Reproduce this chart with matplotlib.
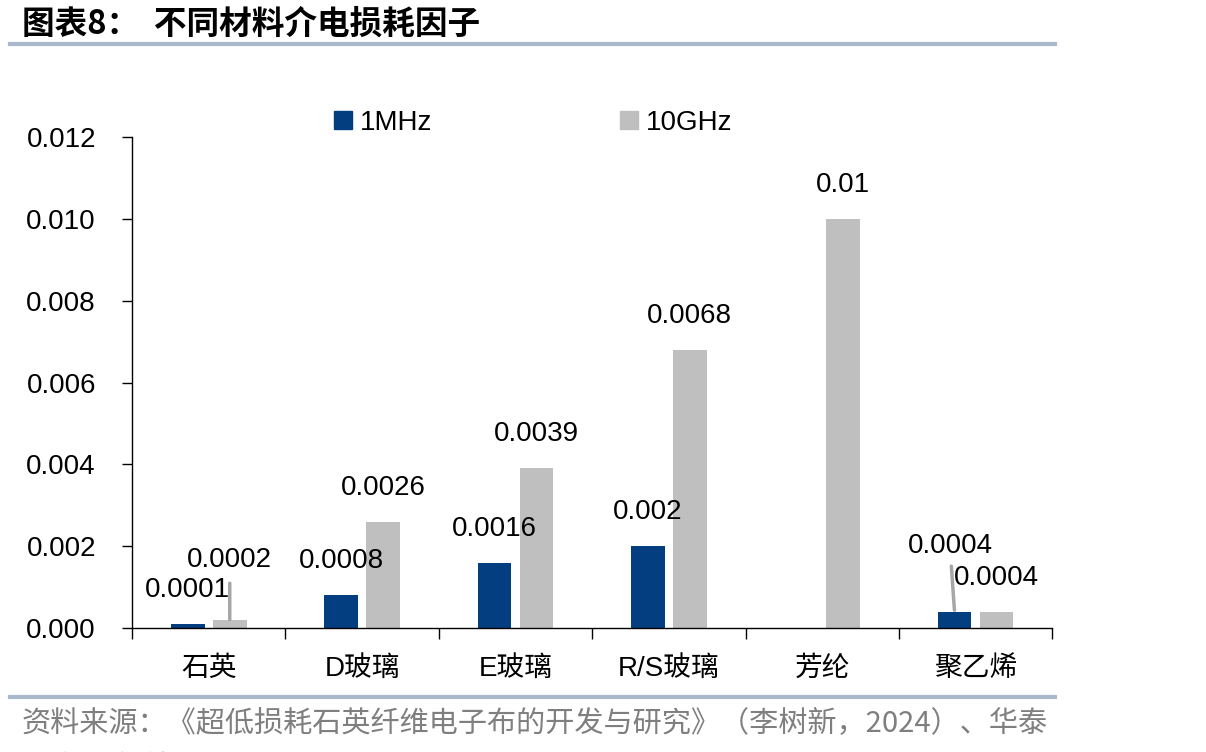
import matplotlib.pyplot as plt
import numpy as np
from matplotlib.lines import Line2D

plt.rcParams['font.family'] = ['Liberation Sans', 'Noto Sans CJK SC', 'DejaVu Sans']

categories = ["石英", "D玻璃", "E玻璃", "R/S玻璃", "芳纶", "聚乙烯"]
mhz_values = [0.0001, 0.0008, 0.0016, 0.002, 0, 0.0004]
ghz_values = [0.0002, 0.0026, 0.0039, 0.0068, 0.01, 0.0004]
mhz_labels = ["0.0001", "0.0008", "0.0016", "0.002", "", "0.0004"]
ghz_labels = ["0.0002", "0.0026", "0.0039", "0.0068", "0.01", "0.0004"]
yticks = [0.0, 0.002, 0.004, 0.006, 0.008, 0.010, 0.012]

navy = "#023E80"
grey = "#BFBFBF"

fig = plt.figure(figsize=(12.06, 7.52), dpi=100)
ax = fig.add_axes([0.1095, 0.1649, 0.763, 0.6529])

x = np.arange(len(categories))
w = 0.22
off = 0.137
ax.bar(x - off, mhz_values, w, color=navy, label="1MHz")
ax.bar(x + off, ghz_values, w, color=grey, label="10GHz")

ax.set_xlim(-0.5, len(categories) - 0.5)
ax.set_ylim(0, 0.012)
ax.set_yticks(yticks)
ax.set_yticklabels([f"{v:.3f}" for v in yticks], fontsize=20)
ax.set_xticks(x)
ax.set_xticklabels(categories, fontsize=20)
ax.set_xticks(np.arange(len(categories) + 1) - 0.5, minor=True)
ax.tick_params(axis='x', which='major', length=0, pad=20)
ax.tick_params(axis='x', which='minor', length=8, direction='out', width=1)
ax.tick_params(axis='y', length=7, direction='out', width=1, pad=19)
for s in ['top', 'right']:
    ax.spines[s].set_visible(False)
for s in ['left', 'bottom']:
    ax.spines[s].set_linewidth(1)

# value labels (points offset above bar tops)
ypad = 0.00083
for i in range(len(categories)):
    if mhz_labels[i]:
        if categories[i] == "聚乙烯":
            ax.annotate(mhz_labels[i], xy=(i - off, mhz_values[i]),
                        xytext=(i - off - 0.03, 0.0020), ha='center', va='center',
                        fontsize=20, arrowprops=dict(arrowstyle='-', color='#A6A6A6', lw=2.5,
                                                     shrinkA=3, shrinkB=1))
        else:
            ax.text(i - off, mhz_values[i] + ypad, mhz_labels[i], ha='center', va='center', fontsize=20)
    if categories[i] == "石英":
        ax.annotate(ghz_labels[i], xy=(i + off, ghz_values[i]),
                    xytext=(i + off, 0.00165), ha='center', va='center',
                    fontsize=20, arrowprops=dict(arrowstyle='-', color='#A6A6A6', lw=2.5,
                                                 shrinkA=5, shrinkB=0))
    else:
        ax.text(i + off, ghz_values[i] + ypad, ghz_labels[i], ha='center', va='center', fontsize=20)

handles = [Line2D([], [], marker='s', ls='', color=navy, markersize=13),
           Line2D([], [], marker='s', ls='', color=grey, markersize=13)]
fig.legend(handles, ["1MHz", "10GHz"], ncol=2, frameon=False, fontsize=20,
           loc='center', bbox_to_anchor=(0.44, 0.837), columnspacing=6.6,
           handletextpad=0.1, handlelength=1.0)

# title and decorative rules
fig.text(0.018, 0.968, "图表8：  不同材料介电损耗因子", fontsize=23.5, fontweight='bold',
         family=['Noto Sans CJK SC'], va='center', ha='left')
fig.add_artist(Line2D([0.008, 0.875], [0.941, 0.941], color='#A9B9CB', lw=3))
fig.add_artist(Line2D([0.008, 0.875], [0.073, 0.073], color='#A9B9CB', lw=3))
fig.text(0.018, 0.037, "资料来源：《超低损耗石英纤维电子布的开发与研究》（李树新，2024）、华泰",
         fontsize=21, color='#7F7F7F', va='center', ha='left',
         family=['Noto Sans CJK SC', 'DejaVu Sans'])
fig.text(0.018, -0.022, "证券研究所", fontsize=21, color='#7F7F7F', va='center', ha='left',
         family=['Noto Sans CJK SC', 'DejaVu Sans'])

fig.savefig("out.png", dpi=100)
